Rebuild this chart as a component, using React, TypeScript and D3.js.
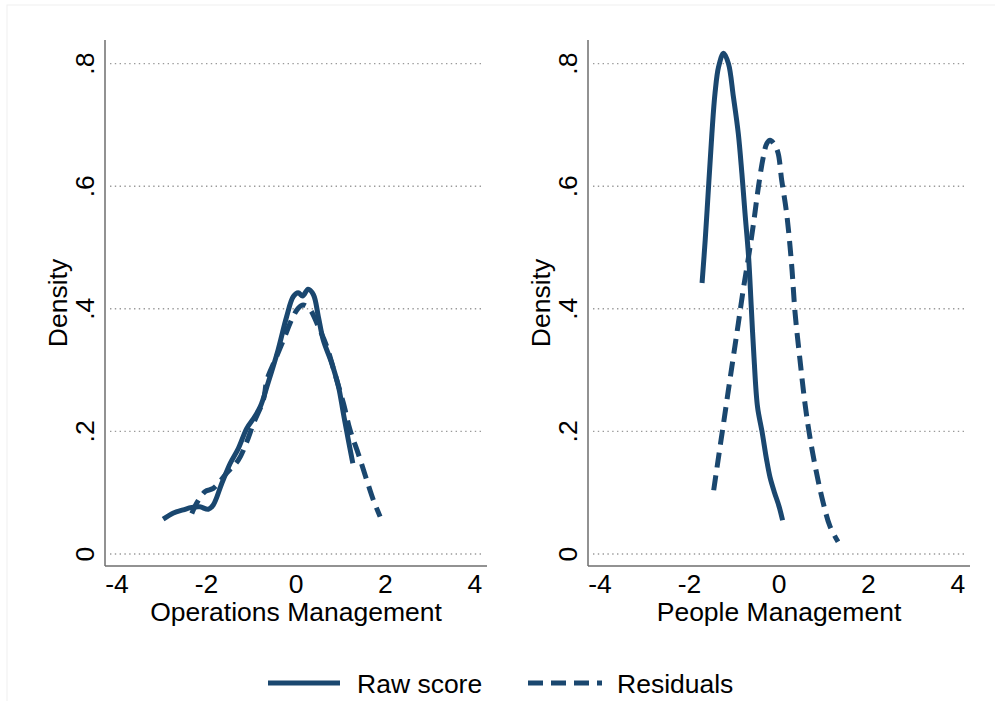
import React from "react";
import * as d3 from "d3";

// ---- data ----
const xTicks = [-4, -2, 0, 2, 4];
const yTicks = [0, 0.2, 0.4, 0.6, 0.8];
const yTickLabels = ["0", ".2", ".4", ".6", ".8"];
const panelTitles = ["Operations Management", "People Management"];
const seriesNames = ["Raw score", "Residuals"];

const opsRawX = [-2.97, -2.74, -2.52, -2.33, -2.15, -1.96, -1.85, -1.66, -1.47, -1.29, -1.10, -0.95, -0.80, -0.62, -0.40, -0.21, -0.06, 0.05, 0.15, 0.27, 0.39, 0.50, 0.61, 0.80, 0.95, 1.06, 1.17, 1.27];
const opsRawY = [0.057, 0.067, 0.072, 0.076, 0.077, 0.073, 0.080, 0.115, 0.148, 0.172, 0.205, 0.221, 0.240, 0.280, 0.333, 0.387, 0.420, 0.426, 0.421, 0.432, 0.423, 0.387, 0.349, 0.311, 0.273, 0.229, 0.186, 0.148];

const opsResX = [-2.33, -2.22, -2.03, -1.85, -1.55, -1.29, -1.10, -0.95, -0.73, -0.65, -0.47, -0.28, -0.10, 0.05, 0.16, 0.31, 0.50, 0.69, 0.87, 1.06, 1.21, 1.39, 1.58, 1.73, 1.88];
const opsResY = [0.066, 0.083, 0.102, 0.107, 0.132, 0.153, 0.183, 0.213, 0.251, 0.284, 0.316, 0.349, 0.382, 0.401, 0.406, 0.399, 0.371, 0.338, 0.294, 0.246, 0.202, 0.164, 0.121, 0.088, 0.061];

const pplRawX = [-1.72, -1.65, -1.57, -1.50, -1.43, -1.35, -1.24, -1.13, -1.02, -0.91, -0.83, -0.76, -0.68, -0.62, -0.56, -0.48, -0.38, -0.28, -0.20, -0.10, 0.00, 0.08];
const pplRawY = [0.442, 0.512, 0.605, 0.686, 0.752, 0.795, 0.817, 0.800, 0.746, 0.686, 0.621, 0.556, 0.485, 0.403, 0.322, 0.240, 0.200, 0.155, 0.125, 0.100, 0.078, 0.055];

const pplResX = [-1.46, -1.35, -1.24, -1.13, -1.02, -0.91, -0.80, -0.68, -0.57, -0.46, -0.35, -0.27, -0.20, -0.10, -0.02, 0.06, 0.17, 0.28, 0.36, 0.47, 0.58, 0.69, 0.84, 0.99, 1.14, 1.32];
const pplResY = [0.104, 0.159, 0.213, 0.268, 0.322, 0.376, 0.431, 0.485, 0.539, 0.599, 0.648, 0.670, 0.675, 0.668, 0.654, 0.610, 0.556, 0.474, 0.393, 0.316, 0.246, 0.191, 0.132, 0.083, 0.045, 0.020];

const W = 995;
const H = 701;
const FONT = "'Liberation Sans', Arial, Helvetica, sans-serif";
const FS = 26.5;
const LINE = "#1a476f";
const DASH = "15 8";

type Panel = {
  left: number;
  title: string;
  raw: [number[], number[]];
  res: [number[], number[]];
};

const panels: Panel[] = [
  { left: 105, title: panelTitles[0], raw: [opsRawX, opsRawY], res: [opsResX, opsResY] },
  { left: 588, title: panelTitles[1], raw: [pplRawX, pplRawY], res: [pplResX, pplResY] },
];

const PW = 382;
const TOP = 40;
const BOT = 566;

function PanelView({ p }: { p: Panel }) {
  const x = d3.scaleLinear().domain([-4.27, 4.27]).range([p.left, p.left + PW]);
  const y = d3.scaleLinear().domain([0, 0.8]).range([554, 63.6]);
  const line = d3
    .line<[number, number]>()
    .x((d) => x(d[0]))
    .y((d) => y(d[1]))
    .curve(d3.curveCatmullRom.alpha(0.5));
  const zip = (a: number[], b: number[]) => a.map((v, i) => [v, b[i]] as [number, number]);
  const cx = p.left + PW / 2;
  return (
    <g>
      {yTicks.map((t) => (
        <line
          key={"g" + t}
          x1={p.left + 5}
          x2={p.left + PW - 4}
          y1={y(t)}
          y2={y(t)}
          stroke="#9a9a9a"
          strokeWidth={1.4}
          strokeDasharray="1.4 3.4"
        />
      ))}
      <line x1={p.left} x2={p.left} y1={TOP} y2={BOT} stroke="#6e6e6e" strokeWidth={1.5} />
      <line x1={p.left} x2={p.left + PW} y1={BOT} y2={BOT} stroke="#6e6e6e" strokeWidth={1.5} />
      {yTicks.map((t, i) => (
        <text
          key={"yl" + t}
          transform={`translate(${p.left - 11},${y(t)}) rotate(-90)`}
          textAnchor="middle"
          fontFamily={FONT}
          fontSize={FS}
          fill="#000"
        >
          {yTickLabels[i]}
        </text>
      ))}
      <text
        transform={`translate(${p.left - 38},${(TOP + BOT) / 2}) rotate(-90)`}
        textAnchor="middle"
        fontFamily={FONT}
        fontSize={FS}
        fill="#000"
      >
        Density
      </text>
      {xTicks.map((t) => (
        <text key={"xl" + t} x={x(t)} y={593} textAnchor="middle" fontFamily={FONT} fontSize={FS} fill="#000">
          {t < 0 ? "-" + Math.abs(t) : String(t)}
        </text>
      ))}
      <text x={cx} y={621} textAnchor="middle" fontFamily={FONT} fontSize={FS} fill="#000">
        {p.title}
      </text>
      <path d={line(zip(p.raw[0], p.raw[1])) || ""} fill="none" stroke={LINE} strokeWidth={5} strokeLinejoin="round" />
      <path
        d={line(zip(p.res[0], p.res[1])) || ""}
        fill="none"
        stroke={LINE}
        strokeWidth={5}
        strokeDasharray={DASH}
      />
    </g>
  );
}

export default function App() {
  return (
    <svg
      width={W}
      height={H}
      viewBox={`0 0 ${W} ${H}`}
      style={{ position: "absolute", left: 0, top: 0, background: "#fff" }}
    >
      <rect x={0} y={0} width={W} height={H} fill="#fff" />
      <rect x={7} y={5} width={W + 20} height={H + 20} fill="none" stroke="#efefef" strokeWidth={1} />
      {panels.map((p, i) => (
        <PanelView key={i} p={p} />
      ))}
      <g>
        <line x1={268} x2={340} y1={683} y2={683} stroke={LINE} strokeWidth={5} />
        <text x={357} y={693} fontFamily={FONT} fontSize={FS} fill="#000">
          {seriesNames[0]}
        </text>
        <line x1={528} x2={602} y1={683} y2={683} stroke={LINE} strokeWidth={5} strokeDasharray={DASH} />
        <text x={617} y={693} fontFamily={FONT} fontSize={FS} fill="#000">
          {seriesNames[1]}
        </text>
      </g>
    </svg>
  );
}
